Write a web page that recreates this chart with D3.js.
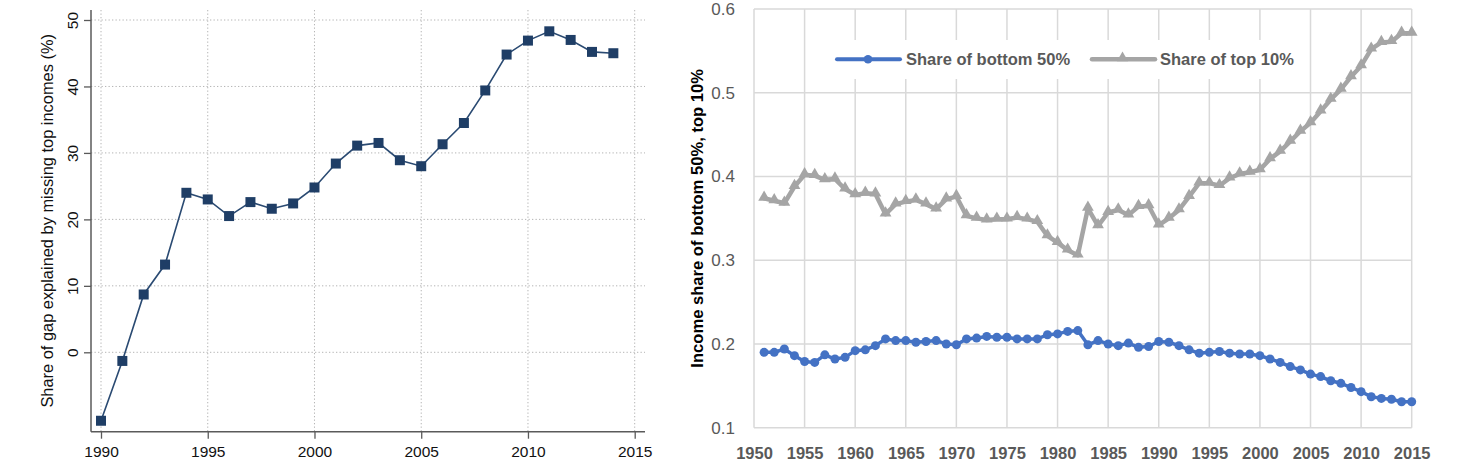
<!DOCTYPE html>
<html>
<head>
<meta charset="utf-8">
<script src="https://cdn.jsdelivr.net/npm/d3@7"></script>
<style>
  body { margin: 0; background: #fff; }
  svg { display: block; }
</style>
</head>
<body>
<div id="chart"></div>
<script>
// Left panel: share of gap explained by missing top incomes (%)
const gapYears = [1990, 1991, 1992, 1993, 1994, 1995, 1996, 1997, 1998, 1999, 2000, 2001,
  2002, 2003, 2004, 2005, 2006, 2007, 2008, 2009, 2010, 2011, 2012, 2013, 2014];
const gapShare = [-10.3, -1.3, 8.7, 13.2, 24.0, 23.0, 20.5, 22.6, 21.6, 22.4, 24.8, 28.4,
  31.1, 31.5, 28.9, 28.0, 31.3, 34.5, 39.4, 44.8, 46.9, 48.3, 47.0, 45.2, 45.0];
const gapXTicks = [1990, 1995, 2000, 2005, 2010, 2015];
const gapYTicks = [0, 10, 20, 30, 40, 50];

// Right panel: income shares
const shareYears = [1951, 1952, 1953, 1954, 1955, 1956, 1957, 1958, 1959, 1960,
  1961, 1962, 1963, 1964, 1965, 1966, 1967, 1968, 1969, 1970,
  1971, 1972, 1973, 1974, 1975, 1976, 1977, 1978, 1979, 1980,
  1981, 1982, 1983, 1984, 1985, 1986, 1987, 1988, 1989, 1990,
  1991, 1992, 1993, 1994, 1995, 1996, 1997, 1998, 1999, 2000,
  2001, 2002, 2003, 2004, 2005, 2006, 2007, 2008, 2009, 2010,
  2011, 2012, 2013, 2014, 2015];
const bottom50 = [0.190, 0.190, 0.194, 0.186, 0.179, 0.178, 0.187, 0.182, 0.184, 0.192,
  0.193, 0.198, 0.206, 0.204, 0.204, 0.202, 0.203, 0.204, 0.200, 0.199,
  0.206, 0.207, 0.209, 0.208, 0.208, 0.206, 0.206, 0.206, 0.211, 0.212,
  0.215, 0.216, 0.199, 0.204, 0.200, 0.198, 0.201, 0.196, 0.197, 0.203,
  0.202, 0.198, 0.193, 0.189, 0.190, 0.191, 0.189, 0.188, 0.188, 0.186,
  0.182, 0.178, 0.173, 0.169, 0.164, 0.161, 0.156, 0.153, 0.148, 0.143,
  0.137, 0.135, 0.134, 0.131, 0.131];
const top10 = [0.374, 0.371, 0.368, 0.388, 0.402, 0.401, 0.396, 0.397, 0.385, 0.378,
  0.380, 0.379, 0.355, 0.367, 0.370, 0.372, 0.367, 0.361, 0.373, 0.376,
  0.353, 0.350, 0.348, 0.349, 0.349, 0.351, 0.349, 0.346, 0.329, 0.321,
  0.312, 0.306, 0.362, 0.341, 0.357, 0.360, 0.354, 0.364, 0.365, 0.342,
  0.350, 0.360, 0.376, 0.392, 0.392, 0.389, 0.398, 0.403, 0.405, 0.408,
  0.421, 0.430, 0.442, 0.454, 0.464, 0.478, 0.492, 0.504, 0.519, 0.532,
  0.552, 0.560, 0.561, 0.571, 0.571];
const shareXTicks = [1950, 1955, 1960, 1965, 1970, 1975, 1980, 1985, 1990, 1995, 2000, 2005, 2010, 2015];
const shareYTicks = [0.1, 0.2, 0.3, 0.4, 0.5, 0.6];
const seriesNames = ["Share of bottom 50%", "Share of top 10%"];

const svg = d3.select("#chart").append("svg")
  .attr("width", 1475)
  .attr("height", 470);

// ---------- left panel (Stata look) ----------
const L = { left: 91, right: 645, top: 10, bottom: 431.7 };
const xL = d3.scaleLinear().domain([1990, 2015]).range([101, 634.7]);
const yL = d3.scaleLinear().domain([0, 50]).range([352.3, 20]);
const left = svg.append("g").attr("font-family", "'Liberation Sans', Arial, sans-serif");

// dotted grid
left.selectAll(".vgrid").data(gapXTicks).enter().append("line")
  .attr("x1", d => xL(d)).attr("x2", d => xL(d))
  .attr("y1", L.top).attr("y2", L.bottom)
  .attr("stroke", "#b4b4b4").attr("stroke-width", 1).attr("stroke-dasharray", "1.3,2.2");
left.selectAll(".hgrid").data(gapYTicks).enter().append("line")
  .attr("x1", L.left).attr("x2", L.right)
  .attr("y1", d => yL(d)).attr("y2", d => yL(d))
  .attr("stroke", "#b4b4b4").attr("stroke-width", 1).attr("stroke-dasharray", "1.3,2.2");

// axes
const lyAxis = left.append("g")
  .attr("transform", `translate(${L.left},0)`)
  .call(d3.axisLeft(yL).tickValues(gapYTicks).tickSize(7));
lyAxis.select(".domain").remove();
lyAxis.selectAll("line").attr("stroke", "#5a5a5a").attr("stroke-width", 1.3);
lyAxis.selectAll("text")
  .attr("x", null).attr("dy", null)
  .attr("transform", "translate(-13,0) rotate(-90)")
  .attr("text-anchor", "middle")
  .attr("font-size", 15.5).attr("fill", "#111");

const lxAxis = left.append("g")
  .attr("transform", `translate(0,${L.bottom})`)
  .call(d3.axisBottom(xL).tickValues(gapXTicks).tickSize(7).tickPadding(7.2).tickFormat(d3.format("d")));
lxAxis.select(".domain").remove();
lxAxis.selectAll("line").attr("stroke", "#5a5a5a").attr("stroke-width", 1.3);
lxAxis.selectAll("text").attr("font-size", 15.5).attr("fill", "#111");

left.append("line")
  .attr("x1", L.left).attr("x2", L.left).attr("y1", L.top).attr("y2", L.bottom)
  .attr("stroke", "#5a5a5a").attr("stroke-width", 1.5);
left.append("line")
  .attr("x1", L.left).attr("x2", L.right).attr("y1", L.bottom).attr("y2", L.bottom)
  .attr("stroke", "#5a5a5a").attr("stroke-width", 1.5);

left.append("text")
  .attr("transform", `translate(52.5,${(L.top + L.bottom) / 2}) rotate(-90)`)
  .attr("text-anchor", "middle")
  .attr("font-size", 16.4).attr("fill", "#111")
  .text("Share of gap explained by missing top incomes (%)");

// series
const gapData = gapYears.map((y, i) => ({ year: y, value: gapShare[i] }));
left.append("path")
  .datum(gapData)
  .attr("fill", "none")
  .attr("stroke", "#2a4a72").attr("stroke-width", 1.6)
  .attr("d", d3.line().x(d => xL(d.year)).y(d => yL(d.value)));
left.selectAll(".sq").data(gapData).enter().append("path")
  .attr("transform", d => `translate(${xL(d.year)},${yL(d.value)})`)
  .attr("d", d3.symbol().type(d3.symbolSquare).size(100))
  .attr("fill", "#1f3e66");

// ---------- right panel (Excel look) ----------
const R = { left: 754, right: 1411.7, top: 9, bottom: 427.7 };
const xR = d3.scaleLinear().domain([1950, 2015]).range([R.left, R.right]);
const yR = d3.scaleLinear().domain([0.1, 0.6]).range([R.bottom, R.top]);
const right = svg.append("g").attr("font-family", "'Liberation Sans', Arial, sans-serif");

right.selectAll(".vgrid").data(shareXTicks).enter().append("line")
  .attr("x1", d => xR(d)).attr("x2", d => xR(d))
  .attr("y1", R.top).attr("y2", R.bottom)
  .attr("stroke", "#d9d9d9").attr("stroke-width", 1.5);
right.selectAll(".hgrid").data(shareYTicks).enter().append("line")
  .attr("x1", R.left).attr("x2", R.right)
  .attr("y1", d => yR(d)).attr("y2", d => yR(d))
  .attr("stroke", "#d9d9d9").attr("stroke-width", 1.5);

const ryAxis = right.append("g")
  .attr("transform", `translate(${R.left},0)`)
  .call(d3.axisLeft(yR).tickValues(shareYTicks).tickSize(0).tickPadding(19).tickFormat(d3.format(".1f")));
ryAxis.select(".domain").remove();
ryAxis.selectAll("text").attr("font-size", 17).attr("fill", "#595959");

const rxAxis = right.append("g")
  .attr("transform", `translate(0,${R.bottom})`)
  .call(d3.axisBottom(xR).tickValues(shareXTicks).tickSize(0).tickPadding(19.5).tickFormat(d3.format("d")));
rxAxis.select(".domain").remove();
rxAxis.selectAll("text").attr("font-size", 16.5).attr("font-weight", "bold").attr("fill", "#595959");

right.append("text")
  .attr("transform", `translate(702.5,${(R.top + R.bottom) / 2}) rotate(-90)`)
  .attr("text-anchor", "middle")
  .attr("font-size", 16.6).attr("font-weight", "bold").attr("fill", "#000")
  .text("Income share of bottom 50%, top 10%");

// legend
const legend = right.append("g");
legend.append("rect")
  .attr("x", 826).attr("y", 40).attr("width", 476).attr("height", 39)
  .attr("fill", "#fff");
legend.append("line")
  .attr("x1", 837).attr("x2", 900).attr("y1", 59.3).attr("y2", 59.3)
  .attr("stroke", "#4472c4").attr("stroke-width", 4).attr("stroke-linecap", "round");
legend.append("circle")
  .attr("cx", 868).attr("cy", 59.3).attr("r", 4.3).attr("fill", "#4472c4");
legend.append("text")
  .attr("x", 906).attr("y", 65)
  .attr("font-size", 16.5).attr("font-weight", "bold").attr("fill", "#595959")
  .text(seriesNames[0]);
legend.append("line")
  .attr("x1", 1092).attr("x2", 1155).attr("y1", 59.3).attr("y2", 59.3)
  .attr("stroke", "#a5a5a5").attr("stroke-width", 4.5).attr("stroke-linecap", "round");
legend.append("path")
  .attr("transform", "translate(1122.5,58)")
  .attr("d", d3.symbol().type(d3.symbolTriangle).size(55))
  .attr("fill", "#a5a5a5");
legend.append("text")
  .attr("x", 1160).attr("y", 65)
  .attr("font-size", 16.5).attr("font-weight", "bold").attr("fill", "#595959")
  .text(seriesNames[1]);

// series
const lineR = d3.line().x(d => xR(d.year)).y(d => yR(d.value));
const bottomData = shareYears.map((y, i) => ({ year: y, value: bottom50[i] }));
const topData = shareYears.map((y, i) => ({ year: y, value: top10[i] }));

right.append("path")
  .datum(bottomData)
  .attr("fill", "none")
  .attr("stroke", "#4472c4").attr("stroke-width", 3.5)
  .attr("stroke-linejoin", "round").attr("stroke-linecap", "round")
  .attr("d", lineR);
right.selectAll(".dot").data(bottomData).enter().append("circle")
  .attr("cx", d => xR(d.year)).attr("cy", d => yR(d.value))
  .attr("r", 4.5).attr("fill", "#4472c4");

right.append("path")
  .datum(topData)
  .attr("fill", "none")
  .attr("stroke", "#a5a5a5").attr("stroke-width", 4.5)
  .attr("stroke-linejoin", "round").attr("stroke-linecap", "round")
  .attr("d", lineR);
right.selectAll(".tri").data(topData).enter().append("path")
  .attr("transform", d => `translate(${xR(d.year)},${yR(d.value) - 1})`)
  .attr("d", d3.symbol().type(d3.symbolTriangle).size(60))
  .attr("fill", "#a5a5a5");
</script>
</body>
</html>
